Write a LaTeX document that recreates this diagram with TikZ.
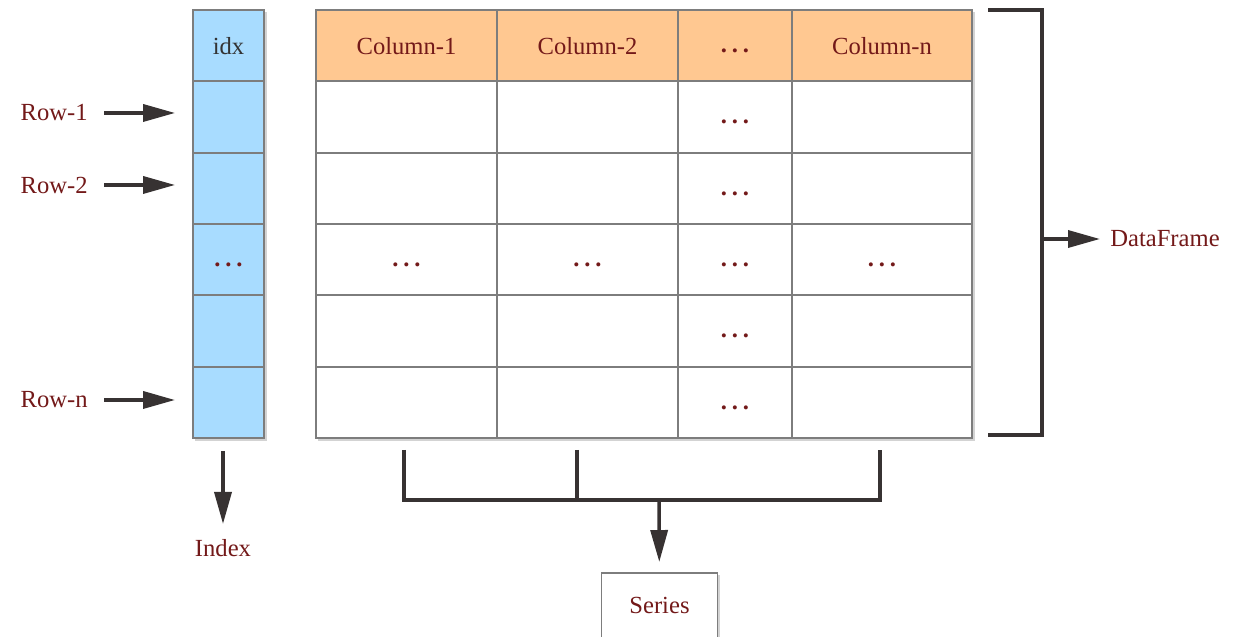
\documentclass[tikz,border=0pt]{standalone}
\usepackage{fontspec}
\setmainfont{Liberation Serif}
\usetikzlibrary{arrows.meta,fit,backgrounds,shadows,calc}

\definecolor{hdrorange}{RGB}{255,200,145}
\definecolor{idxblue}{RGB}{168,220,255}
\definecolor{gridgray}{RGB}{125,125,125}
\definecolor{inkred}{RGB}{115,25,25}
\definecolor{arrowdark}{RGB}{55,50,50}
\newcommand{\skipdots}{\smash{\raisebox{-0.14cm}{\bfseries .\kern0.2em.\kern0.2em.}}}

\begin{document}
\begin{tikzpicture}[
  txt/.style={font=\rmfamily\fontsize{14pt}{16pt}\selectfont, text=inkred},
  cell/.style={rectangle, draw=gridgray, line width=1.1pt, txt, minimum height=1.4267cm, inner sep=0pt},
  hdr/.style={fill=hdrorange},
  idxcell/.style={cell, fill=idxblue, minimum width=1.42cm},
  lbl/.style={txt, inner sep=0pt},
  arrow/.style={-{Triangle[length=0.64cm, width=0.34cm]}, line width=2pt, arrowdark},
  brace/.style={line width=2pt, arrowdark},
  shade/.style={drop shadow={shadow xshift=0.05cm, shadow yshift=-0.05cm, opacity=0.35}},
]
\useasboundingbox (0,0) rectangle (25.06,12.74);

% === INDEX COLUMN ===
\node[idxcell, text=black!80] (idx0) at (4.57, 11.827) {idx};
\foreach \r/\ry in {1/10.400, 2/8.973, 3/7.547, 4/6.120, 5/4.693} {
  \node[idxcell] (idx\r) at (4.57,\ry) {\ifnum\r=3 \skipdots\fi};
}

% === TABLE ===
\foreach \c/\cx/\cw/\head in {1/8.13/3.62/Column-1, 2/11.75/3.62/Column-2, 3/14.70/2.28/\skipdots, 4/17.64/3.60/Column-n} {
  \node[cell, hdr, minimum width=\cw cm] (h\c) at (\cx, 11.827) {\head};
  \foreach \r/\ry in {1/10.400, 2/8.973, 3/7.547, 4/6.120, 5/4.693} {
    \node[cell, minimum width=\cw cm] (c\c-\r) at (\cx,\ry)
      {\ifnum\c=3 \skipdots\else\ifnum\r=3 \skipdots\fi\fi};
  }
}

\begin{scope}[on background layer]
  \node[fit=(idx0)(idx5), inner sep=0pt, fill=white, shade] (idxbox) {};
  \node[fit=(h1)(c4-5), inner sep=0pt, fill=white, shade] (tablebox) {};
\end{scope}

% === ROW LABELS ===
\node[lbl, anchor=east] (row1) at (1.76, 10.48) {Row-1};
\node[lbl, anchor=east] (row2) at (1.76, 9.04) {Row-2};
\node[lbl, anchor=east] (rown) at (1.76, 4.74) {Row-n};
\foreach \n in {row1, row2, rown}
  \draw[arrow, shorten <=0.32cm, shorten >=0.34cm] (\n) -- (\n -| idx1.west);

% === INDEX ===
\node[lbl] (idxlbl) at (4.46, 1.78) {Index};
\draw[arrow, shorten <=0.24cm, shorten >=0.3cm] (idxlbl |- idx5.south) -- (idxlbl);

% === SERIES ===
\coordinate (sL) at (8.08, 3.74);
\coordinate (sM) at (11.54, 3.74);
\coordinate (sR) at (17.60, 3.74);
\coordinate (sbar) at (13.18, 2.74);
\draw[brace] (sL) |- (sbar) -| (sR);
\draw[brace] (sM) -- (sM |- sbar);
\node[cell, fill=white, shade, minimum width=2.32cm, minimum height=1.3cm] (series) at (13.19, 0.63) {Series};
\draw[arrow, shorten >=0.2cm] (sbar) -- (series);

% === DATAFRAME ===
\coordinate (dTop) at (19.76, 12.54);
\coordinate (dBot) at (19.76, 4.04);
\coordinate (dMid) at (20.84, 7.96);
\draw[brace] (dTop) -| (dMid) |- (dBot);
\node[lbl, anchor=west] (df) at (22.2, 7.96) {DataFrame};
\draw[arrow, shorten >=0.2cm] (dMid) -- (df);
\end{tikzpicture}
\end{document}
